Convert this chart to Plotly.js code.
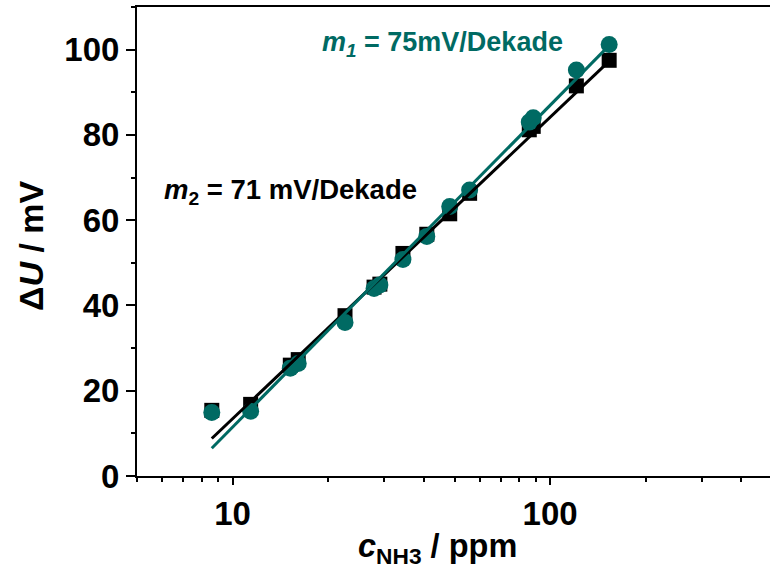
<!DOCTYPE html>
<html>
<head>
<meta charset="utf-8">
<script src="https://cdn.plot.ly/plotly-3.0.1.min.js"></script>
<style>
html, body { margin: 0; padding: 0; overflow: hidden; background: #fff; }
#chart { width: 774px; height: 577px; }
</style>
</head>
<body>
<div id="chart"></div>
<script>
// Concentrations (ppm) and measured potential differences (mV)
const concentration = [8.6, 11.4, 15.2, 16.1, 22.6, 27.9, 29.1, 34.4, 40.9, 48.3, 55.8, 86.0, 88.5, 121, 153.5];
const seriesBlack   = [15.4, 16.8, 26.0, 27.3, 37.6, 44.3, 45.0, 52.2, 56.7, 61.5, 66.3, 81.2, 82.0, 91.5, 97.5];
const seriesTeal    = [14.9, 15.2, 25.3, 26.4, 36.0, 44.0, 44.8, 50.8, 56.2, 63.2, 67.1, 83.0, 84.0, 95.2, 101.2];

// Fit lines (end points)
const fitX     = [8.6, 155];
const fitBlack = [8.8, 97.6];
const fitTeal  = [6.5, 101.3];

// Tick labels
const xMajorTicks = [10, 100];
const xMajorText  = ['10', '100'];
const xMinorTicks = [5, 6, 7, 8, 9, 20, 30, 40, 50, 60, 70, 80, 90, 200, 300, 400];

const teal = '#006A63';
const FONT = 'Liberation Sans, Arial, sans-serif';

const traces = [
  { x: concentration, y: seriesBlack, mode: 'markers', type: 'scatter',
    marker: { symbol: 'square', size: 15, color: '#000' }, cliponaxis: false },
  { x: concentration, y: seriesTeal, mode: 'markers', type: 'scatter',
    marker: { symbol: 'circle', size: 17, color: teal }, cliponaxis: false },
  { x: fitX, y: fitBlack, mode: 'lines', type: 'scatter',
    line: { color: '#000', width: 3 } },
  { x: fitX, y: fitTeal, mode: 'lines', type: 'scatter',
    line: { color: teal, width: 3 } }
];

const L = 137, R = 772, T = 7, B = 476, W = 774, H = 577;
const px = v => (v - L) / (R - L);
const py = v => (B - v) / (B - T);

const layout = {
  width: W, height: H,
  margin: { l: L, r: W - R, t: T, b: H - B },
  paper_bgcolor: '#fff', plot_bgcolor: '#fff',
  showlegend: false,
  font: { family: FONT, color: '#000' },
  xaxis: {
    type: 'log', range: [Math.log10(5), Math.log10(500)],
    showgrid: false, zeroline: false,
    showline: true, linecolor: '#000', linewidth: 2, mirror: true,
    ticks: 'outside', ticklen: 7, tickwidth: 2, tickcolor: '#000',
    tickmode: 'array', tickvals: xMajorTicks, ticktext: xMajorText,
    tickfont: { family: FONT, size: 33, weight: 'bold', color: '#000' },
    minor: { tickmode: 'array', tickvals: xMinorTicks, ticks: 'outside', ticklen: 4, tickwidth: 2, tickcolor: '#000', showgrid: false }
  },
  yaxis: {
    range: [0, 110],
    showgrid: false, zeroline: false,
    showline: true, linecolor: '#000', linewidth: 2, mirror: true,
    ticks: 'outside', ticklen: 9, tickwidth: 2, tickcolor: '#000',
    tickmode: 'linear', tick0: 0, dtick: 20,
    tickfont: { family: FONT, size: 33, weight: 'bold', color: '#000' },
    minor: { dtick: 10, ticks: 'outside', ticklen: 4, tickwidth: 2, tickcolor: '#000', showgrid: false }
  },
  annotations: [
    { xref: 'paper', yref: 'paper', x: px(320), y: py(44), xanchor: 'left', yanchor: 'middle',
      text: '<b><i>m</i><sub><i>1</i></sub> = 75mV/Dekade</b>', showarrow: false,
      font: { family: FONT, size: 27, color: teal } },
    { xref: 'paper', yref: 'paper', x: px(162), y: py(192), xanchor: 'left', yanchor: 'middle',
      text: '<b><i>m</i><sub>2</sub> = 71 mV/Dekade</b>', showarrow: false,
      font: { family: FONT, size: 27.5, color: '#000' } },
    { xref: 'paper', yref: 'paper', x: px(437), y: py(548), xanchor: 'center', yanchor: 'middle',
      text: '<b><i>c</i><sub>NH3</sub> / ppm</b>', showarrow: false,
      font: { family: FONT, size: 32.5, color: '#000' } },
    { xref: 'paper', yref: 'paper', x: px(31), y: py(246), xanchor: 'center', yanchor: 'middle',
      text: '<b>Δ<i>U</i> / mV</b>', showarrow: false, textangle: -90,
      font: { family: FONT, size: 34, color: '#000' } }
  ]
};

Plotly.newPlot('chart', traces, layout, { displayModeBar: false, staticPlot: true });
</script>
</body>
</html>
